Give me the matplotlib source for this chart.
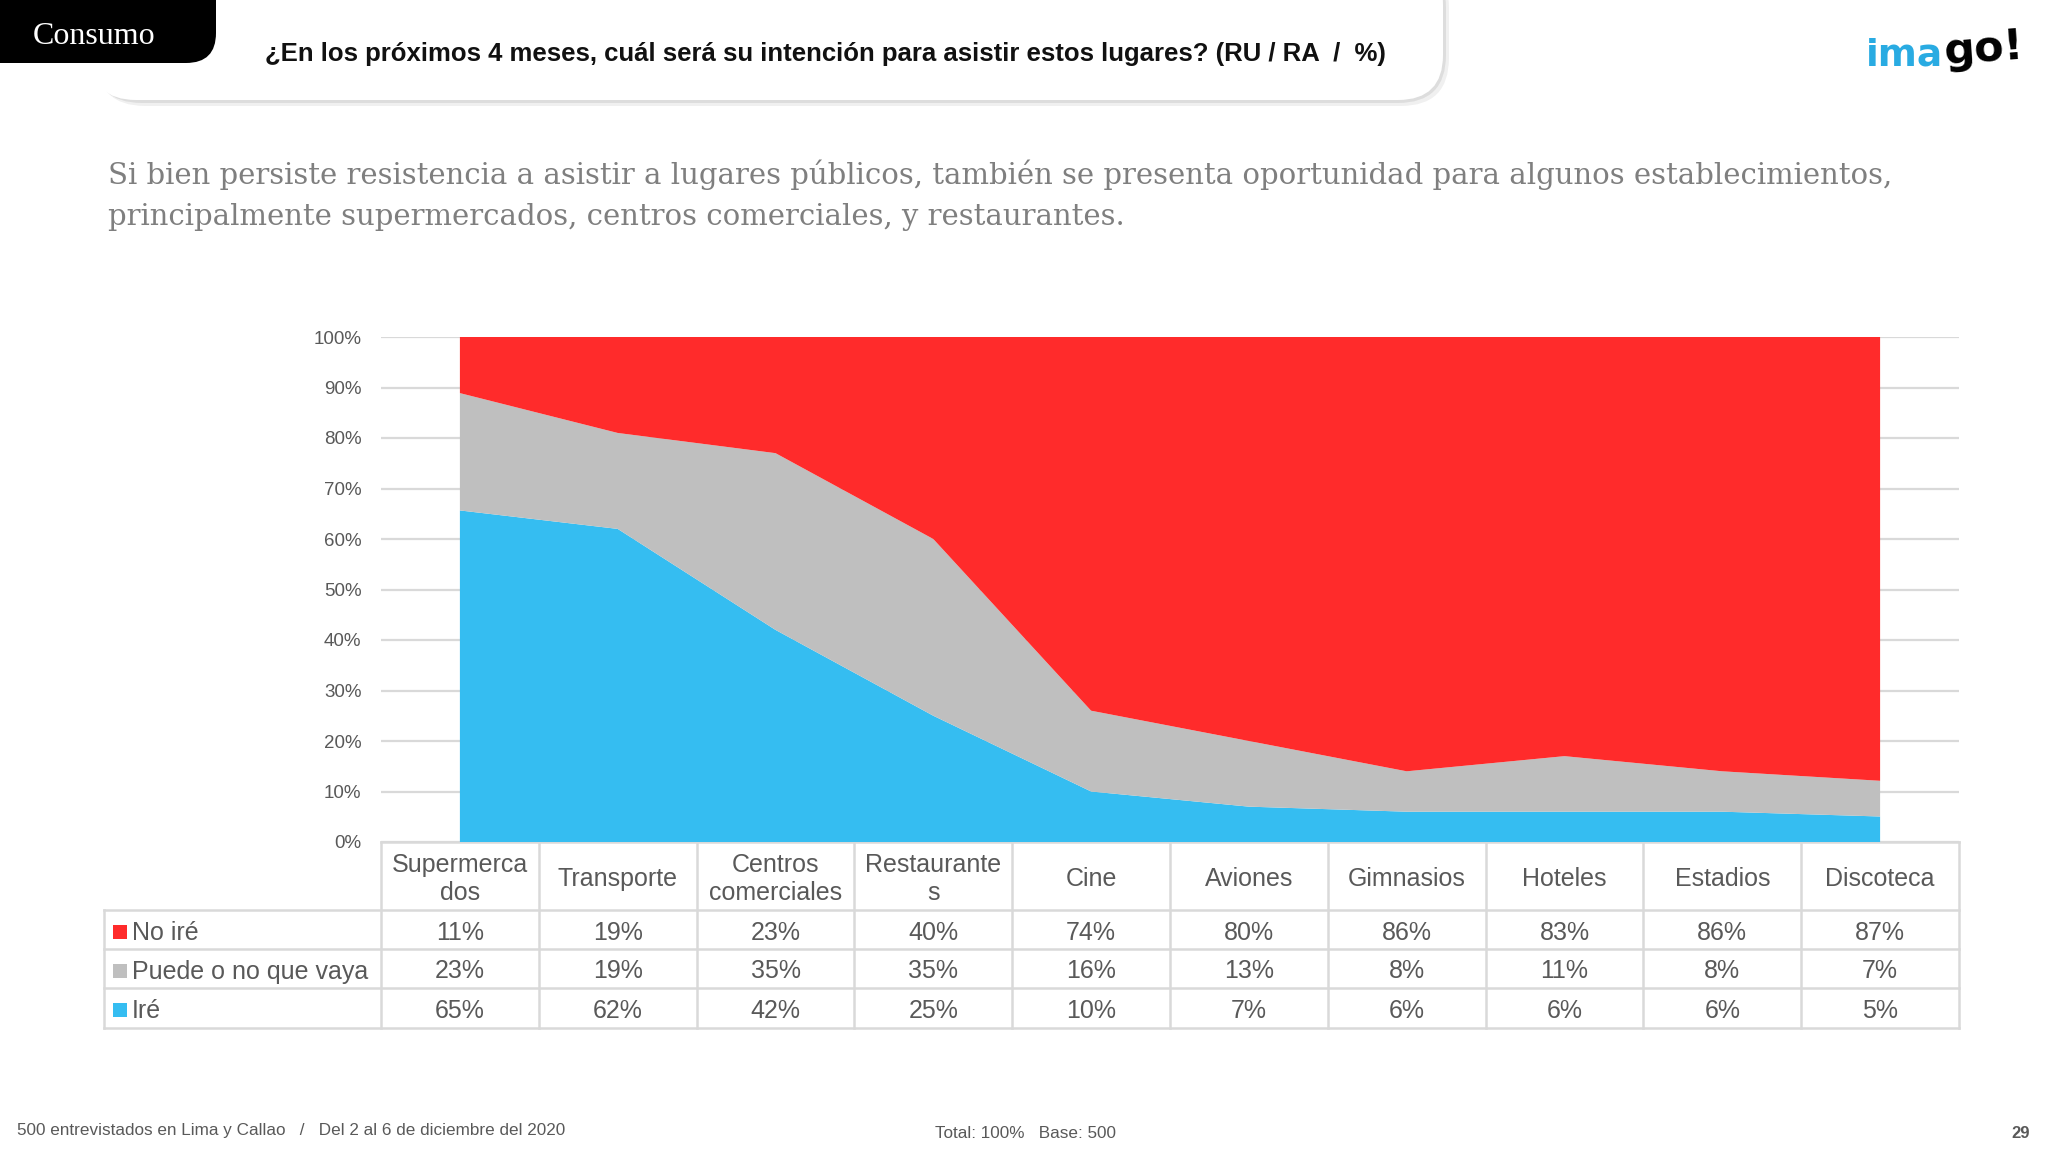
import numpy as np
import matplotlib.pyplot as plt
from matplotlib.patches import FancyBboxPatch, Rectangle

# data
categorias = ['Supermerca\ndos', 'Transporte', 'Centros\ncomerciales', 'Restaurante\ns',
              'Cine', 'Aviones', 'Gimnasios', 'Hoteles', 'Estadios', 'Discoteca']
no_ire = [11, 19, 23, 40, 74, 80, 86, 83, 86, 87]
puede = [23, 19, 35, 35, 16, 13, 8, 11, 8, 7]
ire = [65, 62, 42, 25, 10, 7, 6, 6, 6, 5]
series_names = ['No iré', 'Puede o no que vaya', 'Iré']
colors = {'No iré': '#ff2b2b', 'Puede o no que vaya': '#bfbfbf', 'Iré': '#35bdf1'}
yticks = [0, 10, 20, 30, 40, 50, 60, 70, 80, 90, 100]

pregunta = '¿En los próximos 4 meses, cuál será su intención para asistir estos lugares? (RU / RA  /  %)'
subtitulo = ['Si bien persiste resistencia a asistir a lugares públicos, también se presenta oportunidad para algunos establecimientos,',
             'principalmente supermercados, centros comerciales, y restaurantes.']
pie_izq = '500 entrevistados en Lima y Callao   /   Del 2 al 6 de diciembre del 2020'
pie_centro = 'Total: 100%   Base: 500'
pagina = '29'

W, H = 2048, 1152
TXT = '#595959'
GRID = '#d9d9d9'
SANS = 'Liberation Sans'

fig = plt.figure(figsize=(W / 100, H / 100), dpi=100)
fig.patch.set_facecolor('white')

# overlay in pixel coords for header / table / footer
ov = fig.add_axes([0, 0, 1, 1])
ov.set_xlim(0, W)
ov.set_ylim(H, 0)
ov.axis('off')

# header: white rounded banner with shadow
ov.add_patch(FancyBboxPatch((97, -40), 1352, 146, boxstyle='round,pad=0,rounding_size=48',
                            fc='#000000', ec='none', alpha=0.06, zorder=1))
ov.add_patch(FancyBboxPatch((94, -40), 1352, 143, boxstyle='round,pad=0,rounding_size=48',
                            fc='#000000', ec='none', alpha=0.08, zorder=1))
ov.add_patch(FancyBboxPatch((91, -40), 1352, 140, boxstyle='round,pad=0,rounding_size=45',
                            fc='white', ec='none', zorder=2))
ov.add_patch(FancyBboxPatch((-40, -40), 256, 103, boxstyle='round,pad=0,rounding_size=30',
                            fc='black', ec='none', zorder=3))
ov.text(33, 36, 'Consumo', color='white', fontsize=23, family='Liberation Serif',
        va='center', ha='left', zorder=4)
ov.text(265, 54, pregunta, color='#111111', fontsize=18.5, fontweight='bold', family=SANS,
        va='center', ha='left', zorder=4)

# logo
ov.text(1866, 66, 'ima', color='#29abe2', fontsize=27, fontweight='bold', family='DejaVu Sans',
        va='baseline', ha='left')
ov.text(1942, 64, 'go!', color='black', fontsize=31, fontweight='heavy', family='DejaVu Sans',
        va='baseline', ha='left', rotation=4)

# subtitle
for i, line in enumerate(subtitulo):
    ov.text(108, 175 + i * 42, line, color='#7f7f7f', fontsize=21, family='DejaVu Serif',
            va='center', ha='left')

# footer
ov.text(17, 1130, pie_izq, color=TXT, fontsize=12.3, family=SANS, va='center')
ov.text(935, 1134, pie_centro, color=TXT, fontsize=12.3, family=SANS, va='center')
ov.text(2030, 1134, pagina, color=TXT, fontsize=12, family=SANS, fontweight='bold',
        va='center', ha='right')

# chart geometry (pixels)
x0, x1 = 381, 1959
y_top, y_bot = 337, 842
ncol = len(categorias)
cw = (x1 - x0) / ncol

ax = fig.add_axes([x0 / W, 1 - y_bot / H, (x1 - x0) / W, (y_bot - y_top) / H])
ax.set_facecolor('none')
x = np.arange(ncol)
stack = np.array([ire, puede, no_ire], dtype=float)
stack = stack / stack.sum(axis=0) * 100
ax.stackplot(x, stack, colors=[colors['Iré'], colors['Puede o no que vaya'], colors['No iré']],
             linewidth=0, zorder=2)
ax.set_xlim(-0.5, ncol - 0.5)
ax.set_ylim(0, 100)
ax.set_yticks(yticks)
ax.set_yticklabels([f'{v}%' for v in yticks], fontsize=13.5, color=TXT, family=SANS)
ax.set_xticks([])
ax.tick_params(axis='y', length=0, pad=14)
ax.yaxis.grid(True, color=GRID, lw=1.6)
ax.set_axisbelow(True)
for s in ax.spines.values():
    s.set_visible(False)

# data table under the chart
lab_x0 = 104
row_tops = [842, 910, 949, 988, 1028]
lw = 1.8
# horizontal lines
ov.plot([x0, x1], [row_tops[0], row_tops[0]], color=GRID, lw=lw)
for yy in row_tops[1:]:
    ov.plot([lab_x0, x1], [yy, yy], color=GRID, lw=lw)
# vertical lines
ov.plot([lab_x0, lab_x0], [row_tops[1], row_tops[-1]], color=GRID, lw=lw)
for j in range(ncol + 1):
    xx = x0 + j * cw
    ov.plot([xx, xx], [row_tops[0], row_tops[-1]], color=GRID, lw=lw)

for j, cat in enumerate(categorias):
    cx = x0 + (j + 0.5) * cw
    ov.text(cx, (row_tops[0] + row_tops[1]) / 2 + 3, cat, fontsize=18, color=TXT, family=SANS,
            ha='center', va='center', linespacing=1.22)

table_rows = [no_ire, puede, ire]
for r, (name, vals) in enumerate(zip(series_names, table_rows)):
    cy = (row_tops[r + 1] + row_tops[r + 2]) / 2 + 3
    ov.add_patch(Rectangle((113, cy - 8), 14, 14, fc=colors[name], ec='none'))
    ov.text(132, cy, name, fontsize=18, color=TXT, family=SANS, ha='left', va='center')
    for j, v in enumerate(vals):
        ov.text(x0 + (j + 0.5) * cw, cy, f'{v}%', fontsize=18, color=TXT, family=SANS,
                ha='center', va='center')

fig.savefig('out.png', dpi=100)
